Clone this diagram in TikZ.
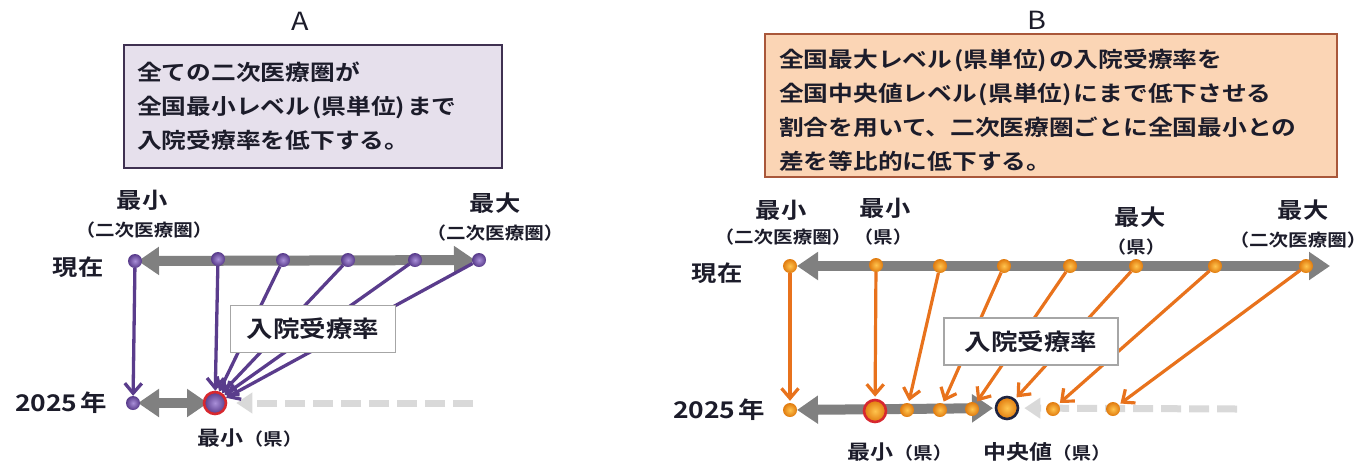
\documentclass[tikz,border=0pt]{standalone}
\usepackage{fontspec}
\newfontfamily\jp[FakeStretch=1.15,BoldFont={Noto Sans CJK JP Bold}]{Noto Sans CJK JP}
\usetikzlibrary{arrows.meta,backgrounds}
\definecolor{ink}{HTML}{1C1C2A}
\definecolor{purp}{HTML}{5A3C8C}
\definecolor{purpin}{HTML}{A98FD8}
\definecolor{purpout}{HTML}{573A8A}
\definecolor{orng}{HTML}{E8721C}
\definecolor{orngin}{HTML}{FFC44E}
\definecolor{orngout}{HTML}{E07A0E}
\definecolor{axisgray}{HTML}{808080}
\definecolor{dashgray}{HTML}{D9D9D9}
\definecolor{boxAfill}{HTML}{E6E0EC}
\definecolor{boxAline}{HTML}{3F3151}
\definecolor{boxBfill}{HTML}{FBD5B5}
\definecolor{boxBline}{HTML}{A9573A}
\definecolor{ringred}{HTML}{D7282F}
\definecolor{ringnavy}{HTML}{1F2440}
\newcommand\lp{\kern2pt(}
\newcommand\rp{)\kern2pt}
\begin{document}
\begin{tikzpicture}[x=1pt,y=-1pt,
every node/.style={text=ink},
lbl/.style={font=\jp\bfseries\fontsize{#1}{#1}\selectfont,inner sep=0pt},
sublbl/.style={lbl=17},
title/.style={font=\jp\fontsize{25}{25}\selectfont,inner sep=0pt},
notetext/.style={font=\jp\bfseries\fontsize{21.5}{34}\selectfont,align=left,anchor=west,inner sep=0pt},
dotA/.style={circle,inner sep=0pt,minimum size=14pt,shading=radial,inner color=purpin,outer color=purpout},
dotB/.style={circle,inner sep=0pt,minimum size=14pt,shading=radial,inner color=orngin,outer color=orngout},
bigdot/.style={circle,inner sep=0pt,minimum size=22pt,line width=2.6pt,draw=#1},
axis/.style={draw=axisgray,line width=10pt,{Triangle[length=21pt,width=27pt]}-{Triangle[length=21pt,width=27pt]}},
ghost/.style={draw=dashgray,line width=7pt,dash pattern=on 20pt off 8pt,-{Triangle[length=16pt,width=20pt]}},
purplearrow/.style={draw=purp,line width=3.3pt,-{Straight Barb[length=10pt,width=17pt]}},
orangearrow/.style={draw=orng,line width=3.2pt,-{Straight Barb[length=10pt,width=17pt]},shorten >=2pt},
ratebox/.style={draw=gray!70,fill=white,line width=1.2pt,lbl=23,minimum width=#1,minimum height=47pt},
]
\useasboundingbox (0,0) rectangle (1367,464);

% ---------- A ----------
\node[title] (titleA) at (300,21) {A};
\node[draw=boxAline,fill=boxAfill,line width=2pt,minimum width=378pt,minimum height=123pt] (boxA) at (313,106.5) {};
\node[notetext] (noteA) at ([xshift=14pt]boxA.west) {全ての二次医療圏が\\全国最小レベル\lp 県単位\rp まで\\入院受療率を低下する。};

\node[lbl=22] (minAtop) at (142,200) {最小};
\node[sublbl] (minAsub) at (144,230) {（二次医療圏）};
\node[lbl=22] (maxAtop) at (495,203) {最大};
\node[sublbl] (maxAsub) at (495,233) {（二次医療圏）};
\node[lbl=22] (nowA) at (78,267) {現在};
\node[lbl=23] (yearA) at (61,403) {2025\kern3pt 年};
\node[sublbl] (minAbot) at (250,438) {{\fontsize{20}{20}\selectfont 最小}（県）};

% now
\node[dotA] (a1) at (135,261) {};
\node[dotA] (a2) at (218,259) {};
\node[dotA] (a3) at (283,260) {};
\node[dotA] (a4) at (348,260) {};
\node[dotA] (a5) at (415,260) {};
\node[dotA] (a6) at (479,260) {};
% 2025
\node[dotA] (b1) at (133,403) {};
\node[bigdot=ringred,shading=radial,inner color=purpin,outer color=purpout] (minA) at (215,403) {};
\coordinate (ghostA) at (473,403);

\begin{scope}[on background layer]
\draw[axis,shorten <=3pt,shorten >=4pt] (a1.center) -- (a6.center);
\draw[axis,shorten <=5pt,shorten >=7pt] (b1.center) -- (minA.center);
\draw[ghost,shorten >=9pt] (ghostA) -- (minA);
\end{scope}

\draw[purplearrow] (a1) -- (b1);
\draw[purplearrow] (a2) -- (minA);
\draw[purplearrow] (a3) -- (minA.70);
\draw[purplearrow] (a4) -- (minA.55);
\draw[purplearrow] (a5) -- (minA.40);
\draw[purplearrow] (a6) -- (minA.25);

\node[ratebox=165pt] (rateA) at (313,329) {入院受療率};

% ---------- B ----------
\node[title] (titleB) at (1037,20) {B};
\node[draw=boxBline,fill=boxBfill,line width=2pt,minimum width=572pt,minimum height=143pt] (boxB) at (1051,105.5) {};
\node[notetext] (noteB) at ([xshift=15pt,yshift=-5pt]boxB.west) {全国最大レベル\lp 県単位\rp の入院受療率を\\全国中央値レベル\lp 県単位\rp にまで低下させる\\割合を用いて、二次医療圏ごとに全国最小との\\差を等比的に低下する。};

\node[lbl=22] (minBtop) at (781,210) {最小};
\node[sublbl] (minBsub) at (783,237) {（二次医療圏）};
\node[lbl=22] (minPtop) at (885,208) {最小};
\node[sublbl] (minPsub) at (883,237) {（県）};
\node[lbl=22] (maxPtop) at (1140,217) {最大};
\node[sublbl] (maxPsub) at (1136,247) {（県）};
\node[lbl=22] (maxBtop) at (1303,210) {最大};
\node[sublbl] (maxBsub) at (1298,240) {（二次医療圏）};
\node[lbl=22] (nowB) at (717,273) {現在};
\node[lbl=23] (yearB) at (719,410) {2025\kern3pt 年};
\node[sublbl] (minBbot) at (900,452) {{\fontsize{20}{20}\selectfont 最小}（県）};
\node[sublbl] (medBbot) at (1047,452) {{\fontsize{20}{20}\selectfont 中央値}（県）};

% now
\node[dotB] (d1) at (790,266) {};
\node[dotB] (d2) at (876,265) {};
\node[dotB] (d3) at (940,266) {};
\node[dotB] (d4) at (1004,266) {};
\node[dotB] (d5) at (1070,266) {};
\node[dotB] (d6) at (1136,266) {};
\node[dotB] (d7) at (1215,266) {};
\node[dotB] (d8) at (1306,266) {};
\coordinate (axisBend) at (1330,266);
% 2025
\node[dotB] (c1) at (790,410) {};
\node[bigdot=ringred,shading=radial,inner color=orngin,outer color=orngout] (minB) at (875,411) {};
\node[dotB] (c3) at (907,410) {};
\node[dotB] (c4) at (940,410) {};
\node[dotB] (c5) at (972,409) {};
\node[bigdot=ringnavy,shading=radial,inner color=orngin,outer color=orngout] (medB) at (1007,408) {};
\node[dotB] (c7) at (1053,409) {};
\node[dotB] (c8) at (1113,409) {};
\coordinate (ghostB) at (1237,409);

\begin{scope}[on background layer]
\draw[axis,shorten <=7pt] (d1.center) -- (axisBend);
\draw[axis,shorten <=7pt,shorten >=14pt] (c1.center) -- (medB.center);
\draw[ghost,shorten >=5pt] (ghostB) -- (medB);
\end{scope}

\draw[orangearrow] (d1) -- (c1);
\draw[orangearrow] (d2) -- (minB);
\draw[orangearrow] (d3) -- (c3);
\draw[orangearrow] (d4) -- (c4);
\draw[orangearrow] (d5) -- (c5);
\draw[orangearrow] (d6) -- (medB);
\draw[orangearrow] (d7) -- (c7);
\draw[orangearrow] (d8) -- (c8);

\node[ratebox=174pt] (rateB) at (1031,341.5) {入院受療率};
\end{tikzpicture}
\end{document}
